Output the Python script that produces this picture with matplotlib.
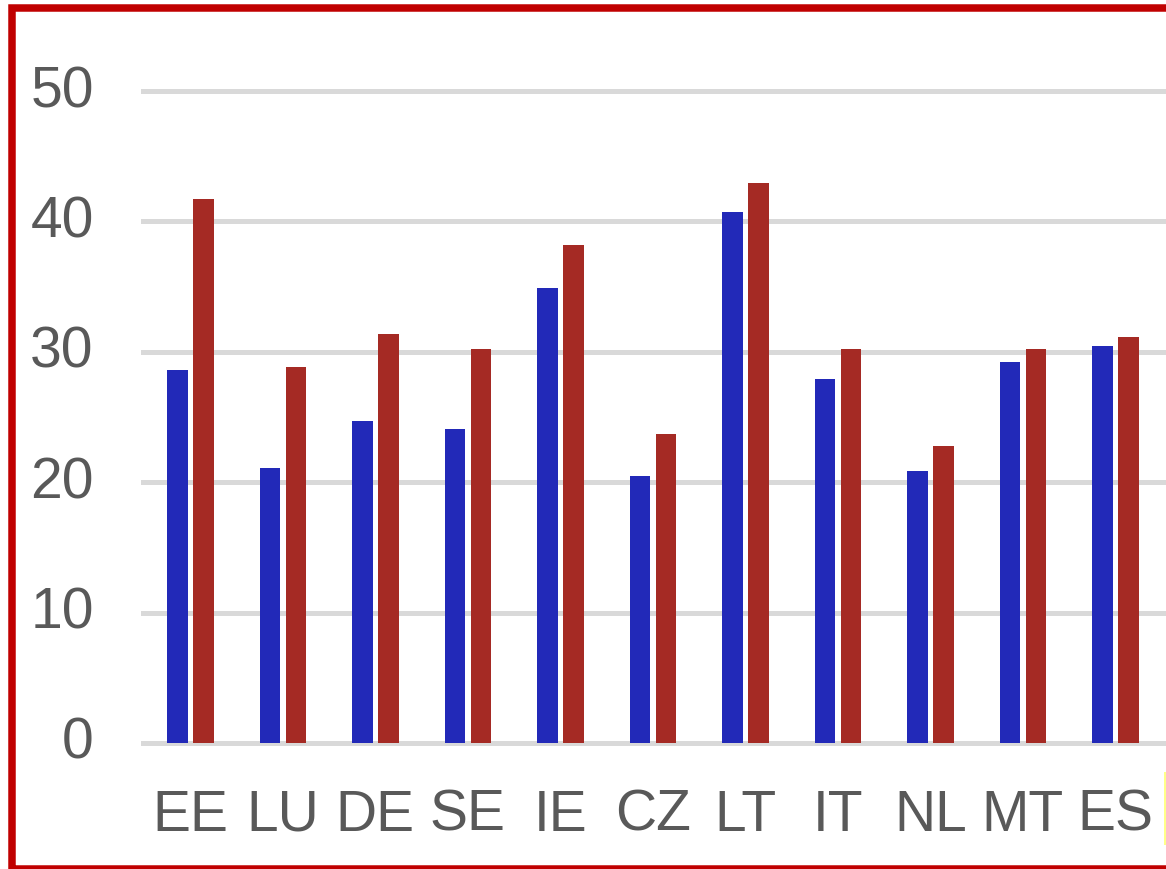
import matplotlib
matplotlib.use("Agg")
import matplotlib.pyplot as plt
import matplotlib.transforms as mtransforms
from matplotlib.patches import Rectangle
import numpy as np

categories = ["EE", "LU", "DE", "SE", "IE", "CZ", "LT", "IT", "NL", "MT", "ES"]
series_blue = [28.6, 21.1, 24.7, 24.1, 34.9, 20.5, 40.75, 27.9, 20.85, 29.2, 30.45]
series_red = [41.7, 28.85, 31.4, 30.2, 38.2, 23.7, 42.95, 30.2, 22.75, 30.2, 31.15]
y_ticks = [0, 10, 20, 30, 40, 50]

W, H = 1166, 869
fig = plt.figure(figsize=(W / 100, H / 100), dpi=100)
fig.patch.set_facecolor("white")

# axes placement in pixels
px_left, px_right = 141, 1166
px_top, px_bottom = 87.1, 746.9
ax = fig.add_axes([px_left / W, 1 - px_bottom / H, (px_right - px_left) / W, (px_bottom - px_top) / H])

x = np.arange(len(categories))
bw = 0.222
off = 0.14
ax.bar(x - off, series_blue, width=bw, color="#2229B8", zorder=3)
ax.bar(x + off, series_red, width=bw, color="#A52A24", zorder=3)

ax.set_xlim(-0.534, 10.547)
ax.set_ylim(-0.3, 50.3)
ax.set_yticks(y_ticks)
ax.set_yticklabels([str(v) for v in y_ticks])
ax.set_xticks(x)
ax.set_xticklabels(categories)

for v in y_ticks:
    ax.axhline(v, color="#d9d9d9", lw=3.6, zorder=1)

for s in ax.spines.values():
    s.set_visible(False)
ax.tick_params(axis="both", length=0, colors="#595959", labelsize=41)
ax.tick_params(axis="y", pad=34)
ax.tick_params(axis="x", pad=30)
for lab in ax.get_xticklabels() + ax.get_yticklabels():
    lab.set_fontfamily("Liberation Sans")
    lab.set_color("#595959")

# nudge y tick labels up a few pixels
shift = mtransforms.ScaledTranslation(0, 5 / 100, fig.dpi_scale_trans)
for lab in ax.get_yticklabels():
    lab.set_transform(lab.get_transform() + shift)

# red frame (cropped on the right)
lw_px = 7.5
fig.add_artist(Rectangle((12 / W, 0), (1300 - 12) / W, 1 - 8 / H,
                         transform=fig.transFigure, fill=False,
                         edgecolor="#C00000", linewidth=lw_px * 72 / 100,
                         clip_on=False))
# small yellow sliver at right edge
fig.add_artist(Rectangle((1164 / W, 1 - 845 / H), 3 / W, 73 / H,
                         transform=fig.transFigure, facecolor="#FFFF88",
                         edgecolor="none"))

fig.savefig("out.png", dpi=100, facecolor="white")
